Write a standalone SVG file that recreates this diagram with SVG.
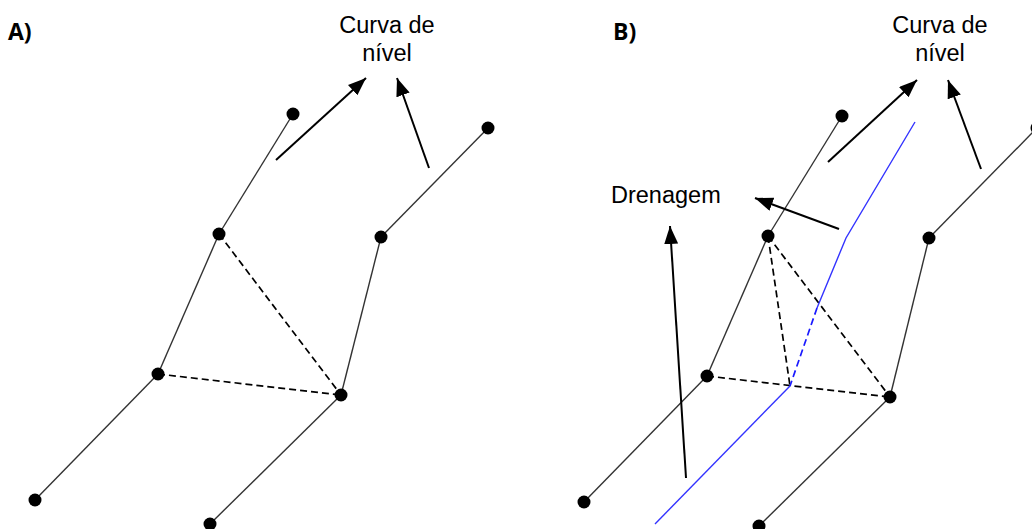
<svg xmlns="http://www.w3.org/2000/svg" width="1032" height="529" viewBox="0 0 1032 529">
<defs>
<marker id="ah" markerUnits="userSpaceOnUse" markerWidth="20" markerHeight="16" refX="18" refY="7" orient="auto">
<path d="M0,0 L18,7 L0,14 Z" fill="#000"/>
</marker>
<style>
.lbl{font-family:"Liberation Sans",Arial,sans-serif;font-size:23.5px;fill:#000}
.ttl{font-family:"Open Sans","Liberation Sans",Arial,sans-serif;font-size:23px;font-weight:bold;fill:#000}
.edge{stroke:#333;stroke-width:1.4;fill:none}
.dash{stroke:#000;stroke-width:1.7;stroke-dasharray:7 4;fill:none}
.arrow{stroke:#000;stroke-width:2;fill:none;marker-end:url(#ah)}
.blue{stroke:#3333ff;stroke-width:1.4;fill:none}
.bdash{stroke:#1a1aff;stroke-width:1.7;stroke-dasharray:7 4;fill:none}
.node{fill:#000}
</style>
</defs>
<rect width="1032" height="529" fill="#fff"/>

<g id="labels">
<text class="ttl" x="8" y="40">A)</text>
<text class="ttl" x="613" y="40">B)</text>
<text class="lbl" x="387" y="33" text-anchor="middle">Curva de</text>
<text class="lbl" x="387" y="61" text-anchor="middle">nível</text>
<text class="lbl" x="940" y="33" text-anchor="middle">Curva de</text>
<text class="lbl" x="940" y="61" text-anchor="middle">nível</text>
<text class="lbl" x="611" y="203">Drenagem</text>
</g>

<g id="connectors">
<!-- Panel A -->
<line class="edge" x1="293" y1="114" x2="219" y2="234"/>
<line class="edge" x1="219" y1="234" x2="158" y2="374"/>
<line class="edge" x1="158" y1="374" x2="35" y2="500"/>
<line class="edge" x1="488" y1="128" x2="381" y2="237"/>
<line class="edge" x1="381" y1="237" x2="341" y2="395"/>
<line class="edge" x1="341" y1="395" x2="210" y2="524"/>
<line class="dash" x1="219" y1="234" x2="341" y2="395"/>
<line class="dash" x1="158" y1="374" x2="341" y2="395"/>
<line class="arrow" x1="276" y1="160" x2="366" y2="78"/>
<line class="arrow" x1="429" y1="168" x2="397" y2="78"/>
<!-- Panel B -->
<line class="edge" x1="842" y1="116" x2="768" y2="236"/>
<line class="edge" x1="768" y1="236" x2="707" y2="376"/>
<line class="edge" x1="707" y1="376" x2="584" y2="502"/>
<line class="edge" x1="1037" y1="128" x2="929" y2="238"/>
<line class="edge" x1="929" y1="238" x2="890" y2="397"/>
<line class="edge" x1="890" y1="397" x2="759" y2="526"/>
<line class="dash" x1="768" y1="236" x2="890" y2="397"/>
<line class="dash" x1="707" y1="376" x2="890" y2="397"/>
<line class="dash" x1="768" y1="236" x2="790" y2="386"/>
<polyline class="blue" points="915,122 846,238 817,308"/>
<line class="bdash" x1="817" y1="308" x2="790" y2="386"/>
<line class="blue" x1="790" y1="386" x2="655" y2="524"/>
<line class="arrow" x1="828" y1="162" x2="917" y2="80"/>
<line class="arrow" x1="981" y1="169" x2="948" y2="80"/>
<line class="arrow" x1="839" y1="229" x2="755" y2="198"/>
<line class="arrow" x1="686" y1="478" x2="670" y2="226"/>
</g>

<g id="nodes-A">
<circle id="a1" class="node" cx="293" cy="114" r="6.5"/>
<circle id="a2" class="node" cx="488" cy="128" r="6.5"/>
<circle id="a3" class="node" cx="219" cy="234" r="6.5"/>
<circle id="a4" class="node" cx="381" cy="237" r="6.5"/>
<circle id="a5" class="node" cx="158" cy="374" r="6.5"/>
<circle id="a6" class="node" cx="341" cy="395" r="6.5"/>
<circle id="a7" class="node" cx="35" cy="500" r="6.5"/>
<circle id="a8" class="node" cx="210" cy="524" r="6.5"/>
</g>
<g id="nodes-B">
<circle id="b1" class="node" cx="842" cy="116" r="6.5"/>
<circle id="b2" class="node" cx="1037" cy="128" r="6.5"/>
<circle id="b3" class="node" cx="768" cy="236" r="6.5"/>
<circle id="b4" class="node" cx="929" cy="238" r="6.5"/>
<circle id="b5" class="node" cx="707" cy="376" r="6.5"/>
<circle id="b6" class="node" cx="890" cy="397" r="6.5"/>
<circle id="b7" class="node" cx="584" cy="502" r="6.5"/>
<circle id="b8" class="node" cx="759" cy="526" r="6.5"/>
</g>
</svg>
